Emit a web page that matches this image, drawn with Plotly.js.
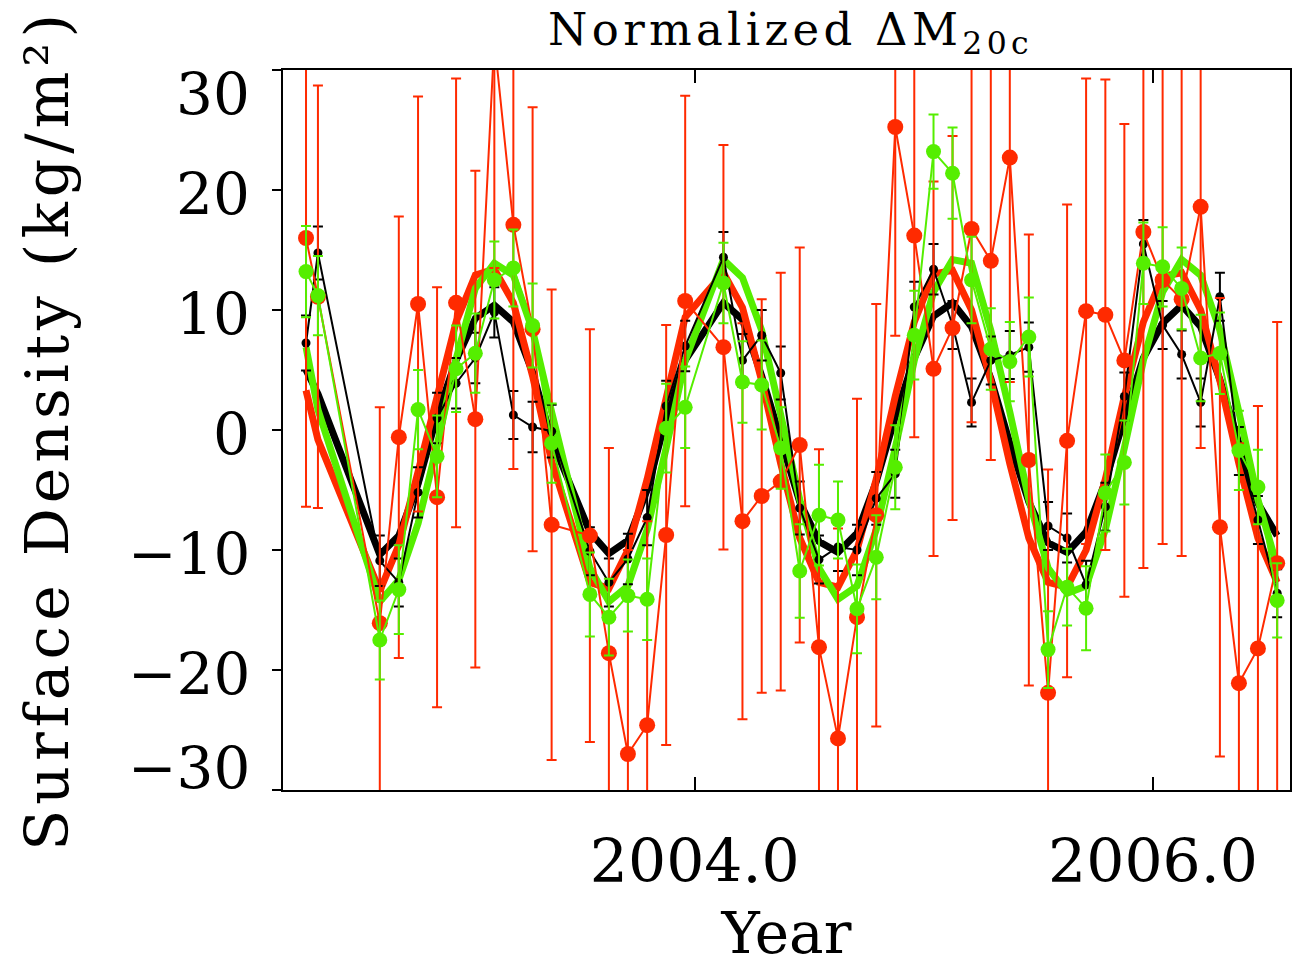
<!DOCTYPE html>
<html>
<head>
<meta charset="utf-8">
<script src="https://cdn.plot.ly/plotly-3.0.1.min.js"></script>
<style>
  html, body { margin: 0; padding: 0; background: #fff; }
  #chart { width: 1293px; height: 967px; }
  .gtitle { letter-spacing: 4.3px; }
  .ytitle { letter-spacing: 5px; }
</style>
</head>
<body>
<div id="chart"></div>
<script>
// Decimal year of each monthly solution (gaps: Jun-Jul 2002, Jun 2003, Jan 2004)
const months = [
  2002.303, 2002.355, 2002.625, 2002.708, 2002.792, 2002.875, 2002.958,
  2003.042, 2003.125, 2003.208, 2003.292, 2003.375,
  2003.542, 2003.625, 2003.708, 2003.792, 2003.875, 2003.958,
  2004.125, 2004.208, 2004.292, 2004.375, 2004.458, 2004.542, 2004.625, 2004.708, 2004.792, 2004.875, 2004.958,
  2005.042, 2005.125, 2005.208, 2005.292, 2005.375, 2005.458, 2005.542, 2005.625, 2005.708, 2005.792, 2005.875, 2005.958,
  2006.042, 2006.125, 2006.208, 2006.292, 2006.375, 2006.458, 2006.542
];

// Red series (kg/m^2) and its 1-sigma errors
const redVal = [
  16.0, 11.1, -16.1, -0.6, 10.5, -5.6, 10.6,
  0.9, 32.5, 17.1, 8.4, -7.9,
  -8.8, -18.6, -27.0, -24.6, -8.75, 10.75,
  6.9, -7.6, -5.5, -4.3, -1.25, -18.1, -25.7, -15.6, -7.1, 25.25, 16.2,
  5.1, 8.5, 16.75, 14.1, 22.7, -2.5, -21.9, -0.9, 9.9, 9.6, 5.8, 16.5,
  12.5, 10.9, 18.6, -8.1, -21.1, -18.2, -11.1
];
const redErr = [
  22.4, 17.6, 18.0, 18.4, 17.3, 17.5, 18.7,
  20.7, 19.0, 20.35, 18.5, 19.6,
  17.2, 17.1, 17.0, 17.0, 17.5, 17.1,
  16.85, 16.5, 16.4, 17.4, 16.45, 16.5, 17.5, 18.2, 17.6, 17.4, 16.8,
  15.6, 16.0, 16.1, 16.6, 18.7, 18.8, 18.6, 19.7, 19.4, 19.6, 19.7, 28.0,
  22.0, 21.4, 20.1, 19.1, 20.0, 20.2, 20.1
];

// Green series and errors
const greenVal = [
  13.2, 11.2, -17.5, -13.3, 1.7, -2.2, 5.1,
  6.4, 12.5, 13.5, 8.7, -1.1,
  -13.7, -15.6, -13.8, -14.1, 0.15, 1.9,
  12.25, 4.0, 3.75, -1.5, -11.75, -7.1, -7.5, -14.9, -10.6, -3.1, 7.9,
  23.2, 21.4, 12.5, 6.75, 5.7, 7.75, -18.3, -13.1, -14.85, -5.25, -2.7, 13.9,
  13.6, 11.8, 6.0, 6.4, -1.7, -4.75, -14.2
];
const greenErr = [
  3.8, 3.3, 3.3, 3.7, 3.3, 3.4, 3.6,
  3.3, 3.2, 3.2, 3.5, 3.3,
  3.5, 3.2, 3.0, 3.4, 3.7, 3.4,
  3.35, 3.4, 3.7, 3.4, 3.9, 4.2, 3.2, 3.7, 3.5, 3.5, 3.7,
  3.1, 3.8, 3.6, 3.4, 3.3, 3.3, 3.2, 3.2, 3.5, 3.2, 3.5, 3.4,
  3.3, 3.4, 3.6, 3.4, 3.3, 3.1, 3.1
];

// Black series and errors
const blackVal = [
  7.25, 14.75, -10.9, -12.7, -5.2, 1.0, 3.9,
  6.0, 9.8, 1.25, 0.25, -0.1,
  -10.1, -12.7, -10.75, -7.3, 2.0, 7.0,
  14.4, 5.8, 7.9, 4.75, -6.5, -10.8, -9.75, -10.0, -5.7, -3.65, 10.25,
  13.4, 8.75, 2.3, 5.8, 6.25, 6.9, -8.0, -9.0, -12.9, -6.4, 2.8, 15.5,
  8.75, 6.3, 2.3, 11.1, -1.75, -7.5, -13.6
];
const blackErr = [
  2.3, 2.2, 2.1, 2.0, 2.1, 2.1, 2.1,
  2.1, 2.1, 2.0, 2.1, 2.2,
  2.0, 2.0, 2.1, 2.3, 2.1, 2.1,
  2.1, 2.2, 2.1, 2.2, 2.2, 2.0, 2.0, 2.1, 2.2, 2.0, 2.1,
  2.1, 2.0, 2.0, 2.0, 2.0, 2.05, 2.0, 2.05, 2.0, 2.0, 2.0, 2.0,
  2.0, 2.0, 2.0, 2.0, 2.0, 2.0, 2.0
];

// Thick seasonal-fit curves read at the same months
const blackFit = [
  5.0, 3.0, -10.4, -8.8, -4.5, 1.2, 5.8,
  9.3, 10.4, 9.0, 4.8, -0.8,
  -8.5, -10.3, -9.2, -5.0, 1.0, 5.8,
  10.6, 9.2, 4.5, -1.0, -6.0, -9.3, -10.2, -8.6, -4.3, 1.1, 6.0,
  9.5, 10.6, 8.6, 4.3, -1.1, -6.0, -9.4, -10.2, -8.5, -4.3, 1.0, 6.0,
  8.9, 10.4, 8.6, 4.2, -1.1, -6.1, -8.8
];
const redFit = [
  3.3, -0.8, -13.4, -9.6, -3.5, 2.6, 9.0,
  12.9, 13.4, 10.6, 4.5, -2.6,
  -12.7, -13.2, -10.0, -4.1, 2.8, 9.4,
  13.1, 10.2, 4.1, -2.8, -9.0, -12.7, -13.1, -10.0, -4.1, 2.8, 9.0,
  13.0, 13.3, 10.0, 4.1, -2.8, -9.0, -12.7, -13.1, -10.0, -4.1, 2.8, 9.0,
  12.8, 13.1, 10.0, 4.1, -2.8, -9.0, -12.7
];
const greenFit = [
  6.9, 1.7, -14.3, -12.5, -7.8, -1.3, 5.9,
  11.8, 13.9, 12.9, 8.3, 1.5,
  -11.5, -14.3, -13.0, -8.3, -1.5, 5.8,
  14.2, 12.7, 8.3, 1.5, -5.8, -11.5, -14.1, -13.0, -8.3, -1.5, 5.8,
  11.5, 14.2, 13.9, 8.3, 1.5, -5.8, -11.5, -13.6, -13.0, -8.3, -1.5, 5.8,
  11.5, 14.2, 12.9, 8.3, 1.5, -5.8, -11.4
];

// Axis ticks
const xTickVals = [2004, 2006];
const xTickText = ['2004.0', '2006.0'];
const yTickVals = [30, 20, 10, 0, -10, -20, -30];
const yTickText = ['30', '20', '10', '0', '\u221210', '\u221220', '\u221230'];

const RED = '#ff2a00';
const GREEN = '#55ee00';
const BLACK = '#000000';
const FONT = 'DejaVu Serif';

function fitTrace(y, color, width) {
  return { x: months, y: y, type: 'scatter', mode: 'lines',
           line: { color: color, width: width }, hoverinfo: 'skip' };
}
function dataTrace(y, err, color, msize, lw) {
  return { x: months, y: y, type: 'scatter', mode: 'lines+markers',
           line: { color: color, width: lw },
           marker: { color: color, size: msize },
           error_y: { type: 'data', array: err, visible: true, color: color, thickness: 2, width: 5 } };
}

const traces = [
  fitTrace(blackFit, BLACK, 7),
  fitTrace(redFit, RED, 7),
  fitTrace(greenFit, GREEN, 7),
  dataTrace(blackVal, blackErr, BLACK, 9, 2),
  dataTrace(redVal, redErr, RED, 16, 2),
  dataTrace(greenVal, greenErr, GREEN, 15, 2)
];

const annotations = yTickVals.map((v, i) => {
  let anchor = 'middle', shift = -4;
  if (i === 0) { anchor = 'top'; shift = 12; }
  if (i === yTickVals.length - 1) { anchor = 'bottom'; shift = -14; }
  return { xref: 'paper', yref: 'y', x: 0, y: v, text: yTickText[i],
           showarrow: false, xanchor: 'right', yanchor: anchor, xshift: -31, yshift: shift,
           font: { family: FONT, size: 58, color: BLACK } };
});

const layout = {
  width: 1293, height: 967,
  margin: { l: 283, r: 3, t: 70, b: 177 },
  paper_bgcolor: '#ffffff', plot_bgcolor: '#ffffff',
  showlegend: false,
  title: { text: 'Normalized \u0394M<sub>20c</sub>', font: { family: FONT, size: 45, color: BLACK },
           xref: 'paper', x: 0.504, xanchor: 'center', yref: 'container', y: 0.986, yanchor: 'top' },
  xaxis: {
    range: [2002.2025, 2006.598], tickvals: xTickVals, ticktext: xTickText,
    ticks: 'inside', ticklen: 13, tickwidth: 2, tickcolor: BLACK,
    showline: true, linewidth: 2, linecolor: BLACK, mirror: 'ticks',
    showgrid: false, zeroline: false,
    tickfont: { family: FONT, size: 60, color: BLACK }, ticklabelstandoff: 18,
    title: { text: 'Year', font: { family: FONT, size: 58, color: BLACK }, standoff: 47 }
  },
  yaxis: {
    range: [-30, 30], tickvals: yTickVals, showticklabels: false,
    ticks: 'outside', ticklen: 9, tickwidth: 2, tickcolor: BLACK,
    showline: true, linewidth: 2, linecolor: BLACK, mirror: true,
    showgrid: false, zeroline: false,
    title: { text: 'Surface Density (kg/m\u00b2)', font: { family: FONT, size: 60, color: BLACK }, standoff: 184 }
  },
  annotations: annotations
};

Plotly.newPlot('chart', traces, layout, { displayModeBar: false, staticPlot: true });
</script>
</body>
</html>
